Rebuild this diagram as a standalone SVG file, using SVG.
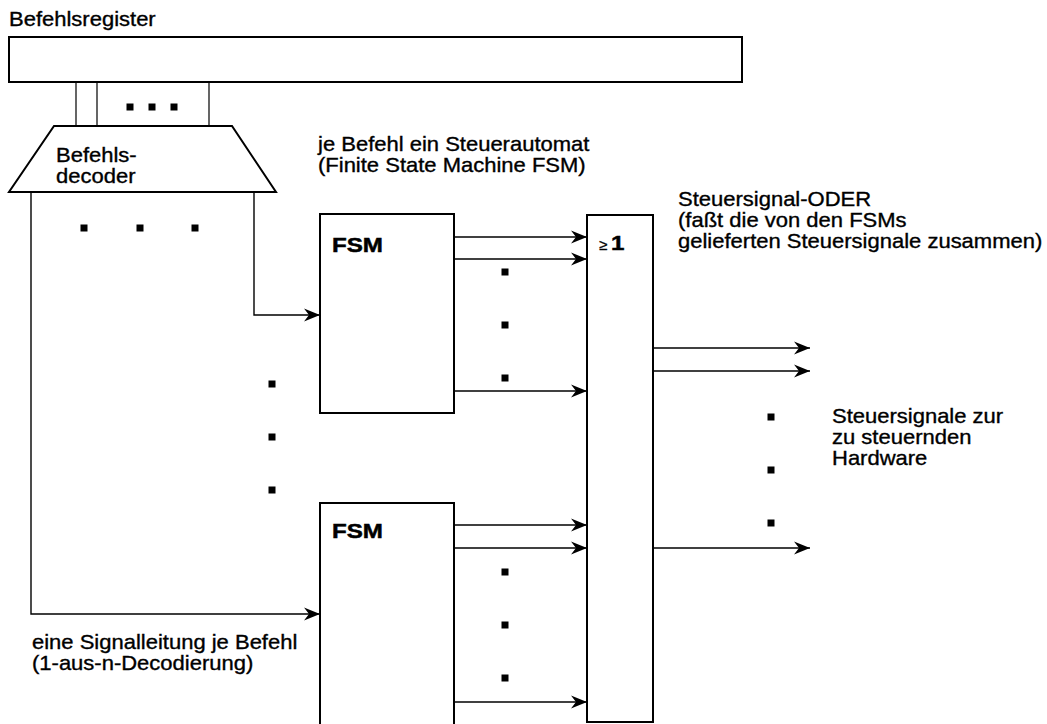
<svg xmlns="http://www.w3.org/2000/svg" width="1047" height="724" viewBox="0 0 1047 724">
<style>
.t{font-family:"Liberation Sans",Arial,sans-serif;font-size:20px;fill:#000;stroke:#000;stroke-width:0.35}
.b{font-weight:bold;font-size:21px;stroke-width:0.5}
.box{fill:#fff;stroke:#000;stroke-width:2}
.ln{fill:none;stroke:#000;stroke-width:1.2}
.ar{fill:none;stroke:#000;stroke-width:1.4;marker-end:url(#ah)}
.d{fill:#000}
</style>
<defs>
<marker id="ah" markerUnits="userSpaceOnUse" markerWidth="18" markerHeight="14" refX="16" refY="7" orient="auto">
<path d="M0,0.5 L16,7 L0,13.5 L5,7 Z" fill="#000"/>
</marker>
</defs>
<rect width="1047" height="724" fill="#fff"/>

<g id="register">
<rect class="box" x="9" y="37" width="733" height="45"/>
<text class="t" transform="translate(9,26) scale(1.1,1)">Befehlsregister</text>
</g>

<g id="decoder">
<path class="box" d="M54,126 L232,126 L276,192 L9,192 Z"/>
<text class="t" transform="translate(56,162) scale(1.1,1)">Befehls-</text>
<text class="t" transform="translate(56,183) scale(1.1,1)">decoder</text>
</g>

<g id="fsm1">
<rect class="box" x="320" y="214" width="134" height="199"/>
<text class="t b" transform="translate(332,252) scale(1.15,1)">FSM</text>
</g>

<g id="fsm2">
<path class="box" d="M320,730 L320,503 L454,503 L454,730"/>
<text class="t b" transform="translate(332,538) scale(1.15,1)">FSM</text>
</g>

<g id="or">
<rect class="box" x="587" y="215" width="66" height="507"/>
<text class="t" style="font-size:15px" x="599" y="250">≥</text>
<text class="t b" transform="translate(611,250) scale(1.15,1)">1</text>
</g>

<g id="labels">
<text class="t" transform="translate(318,151) scale(1.1,1)">je Befehl ein Steuerautomat</text>
<text class="t" transform="translate(318,172) scale(1.1,1)">(Finite State Machine FSM)</text>
<text class="t" transform="translate(678,206) scale(1.1,1)">Steuersignal-ODER</text>
<text class="t" transform="translate(678,227) scale(1.1,1)">(faßt die von den FSMs</text>
<text class="t" transform="translate(678,248) scale(1.1,1)">gelieferten Steuersignale zusammen)</text>
<text class="t" transform="translate(832,423) scale(1.1,1)">Steuersignale zur</text>
<text class="t" transform="translate(832,444) scale(1.1,1)">zu steuernden</text>
<text class="t" transform="translate(832,465) scale(1.1,1)">Hardware</text>
<text class="t" transform="translate(32,649) scale(1.1,1)">eine Signalleitung je Befehl</text>
<text class="t" transform="translate(32,670) scale(1.1,1)">(1-aus-n-Decodierung)</text>
</g>

<g id="connectors">
<path class="ln" d="M76,82 V126 M97,82 V126 M209,82 V126"/>
<path class="ar" d="M254,192 V315 H320"/>
<path class="ar" d="M31,192 V614 H320"/>
<path class="ar" d="M454,237 H587"/>
<path class="ar" d="M454,259 H587"/>
<path class="ar" d="M454,391 H587"/>
<path class="ar" d="M454,525 H587"/>
<path class="ar" d="M454,548 H587"/>
<path class="ar" d="M454,702 H587"/>
<path class="ar" d="M653,348 H810"/>
<path class="ar" d="M653,371 H810"/>
<path class="ar" d="M653,548 H810"/>
</g>

<g id="dots">
<rect class="d" x="126.5" y="103.5" width="7" height="7"/>
<rect class="d" x="148.5" y="103.5" width="7" height="7"/>
<rect class="d" x="170.5" y="103.5" width="7" height="7"/>
<rect class="d" x="80.5" y="224.5" width="7" height="7"/>
<rect class="d" x="136.5" y="224.5" width="7" height="7"/>
<rect class="d" x="191.5" y="224.5" width="7" height="7"/>
<rect class="d" x="268.5" y="380.5" width="7" height="7"/>
<rect class="d" x="268.5" y="433.5" width="7" height="7"/>
<rect class="d" x="268.5" y="486.5" width="7" height="7"/>
<rect class="d" x="501.5" y="268.5" width="7" height="7"/>
<rect class="d" x="501.5" y="321.5" width="7" height="7"/>
<rect class="d" x="501.5" y="374.5" width="7" height="7"/>
<rect class="d" x="501.5" y="568.5" width="7" height="7"/>
<rect class="d" x="501.5" y="621.5" width="7" height="7"/>
<rect class="d" x="501.5" y="674.5" width="7" height="7"/>
<rect class="d" x="767.5" y="413.5" width="7" height="7"/>
<rect class="d" x="767.5" y="466.5" width="7" height="7"/>
<rect class="d" x="767.5" y="519.5" width="7" height="7"/>
</g>
</svg>
